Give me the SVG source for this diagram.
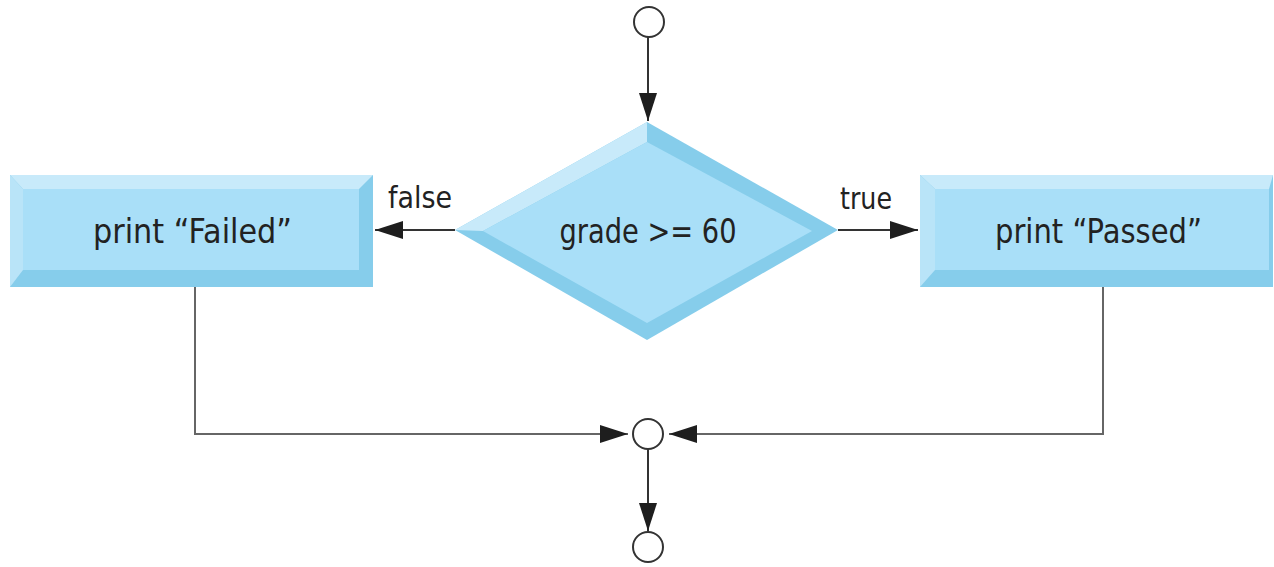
<svg xmlns="http://www.w3.org/2000/svg" width="1274" height="567" viewBox="0 0 1274 567">
<style>
.face{fill:#a9dff8}
.lite{fill:#c8eafa}
.mid{fill:#b9e4f8}
.dark{fill:#86cdeb}
.txt{font-family:'DejaVu Sans','Liberation Sans',sans-serif;fill:#222;text-anchor:middle}
.main{font-size:34px}
.lbl{font-size:30px}
.ln{fill:none;stroke:#333;stroke-width:2}
.ln2{fill:none;stroke:#666;stroke-width:2}
.node{fill:#fff;stroke:#333;stroke-width:2}
</style>
<defs>
<marker id="ah" viewBox="0 0 28 18" refX="28" refY="9" markerWidth="28" markerHeight="18" markerUnits="userSpaceOnUse" orient="auto">
<path d="M0,0 L28,9 L0,18 Z" fill="#1e1e1e"/>
</marker>
</defs>

<g id="start">
<circle class="node" cx="649" cy="22" r="15"/>
</g>

<g id="decision">
<polygon class="dark" points="647,122 838,230 647,340 455,230"/>
<polygon class="lite" points="455,230 647,122 647,142 483,231"/>
<polygon class="face" points="647,142 812,231 647,323 483,231"/>
<text class="txt main" x="648" y="243" textLength="177" lengthAdjust="spacingAndGlyphs">grade &gt;= 60</text>
</g>

<g id="failed">
<rect class="dark" x="10" y="175" width="363" height="112"/>
<polygon class="lite" points="10,175 373,175 359,189 23,189"/>
<polygon class="mid" points="10,175 23,189 23,270 10,287"/>
<rect class="face" x="23" y="189" width="336" height="81"/>
<text class="txt main" x="192.5" y="243" textLength="199" lengthAdjust="spacingAndGlyphs">print “Failed”</text>
</g>

<g id="passed">
<rect class="dark" x="920" y="175" width="353" height="112"/>
<polygon class="lite" points="920,175 1273,175 1269,189 935,189"/>
<polygon class="mid" points="920,175 935,189 935,270 920,287"/>
<rect class="face" x="935" y="189" width="334" height="81"/>
<text class="txt main" x="1098.5" y="243" textLength="207" lengthAdjust="spacingAndGlyphs">print “Passed”</text>
</g>

<g id="merge">
<circle class="node" cx="648" cy="434" r="15"/>
</g>

<g id="end">
<circle class="node" cx="648" cy="547" r="15"/>
</g>

<g id="connectors">
<line class="ln" x1="648" y1="37" x2="648" y2="121" marker-end="url(#ah)"/>
<line class="ln" x1="455" y1="230" x2="375" y2="230" marker-end="url(#ah)"/>
<line class="ln" x1="838" y1="230" x2="918" y2="230" marker-end="url(#ah)"/>
<polyline class="ln2" points="195,287 195,434 628,434" marker-end="url(#ah)"/>
<polyline class="ln2" points="1103,287 1103,434 669,434" marker-end="url(#ah)"/>
<line class="ln" x1="648" y1="449" x2="648" y2="531" marker-end="url(#ah)"/>
<text class="txt lbl" x="420" y="208" textLength="64" lengthAdjust="spacingAndGlyphs">false</text>
<text class="txt lbl" x="866" y="209" textLength="52" lengthAdjust="spacingAndGlyphs">true</text>
</g>
</svg>
